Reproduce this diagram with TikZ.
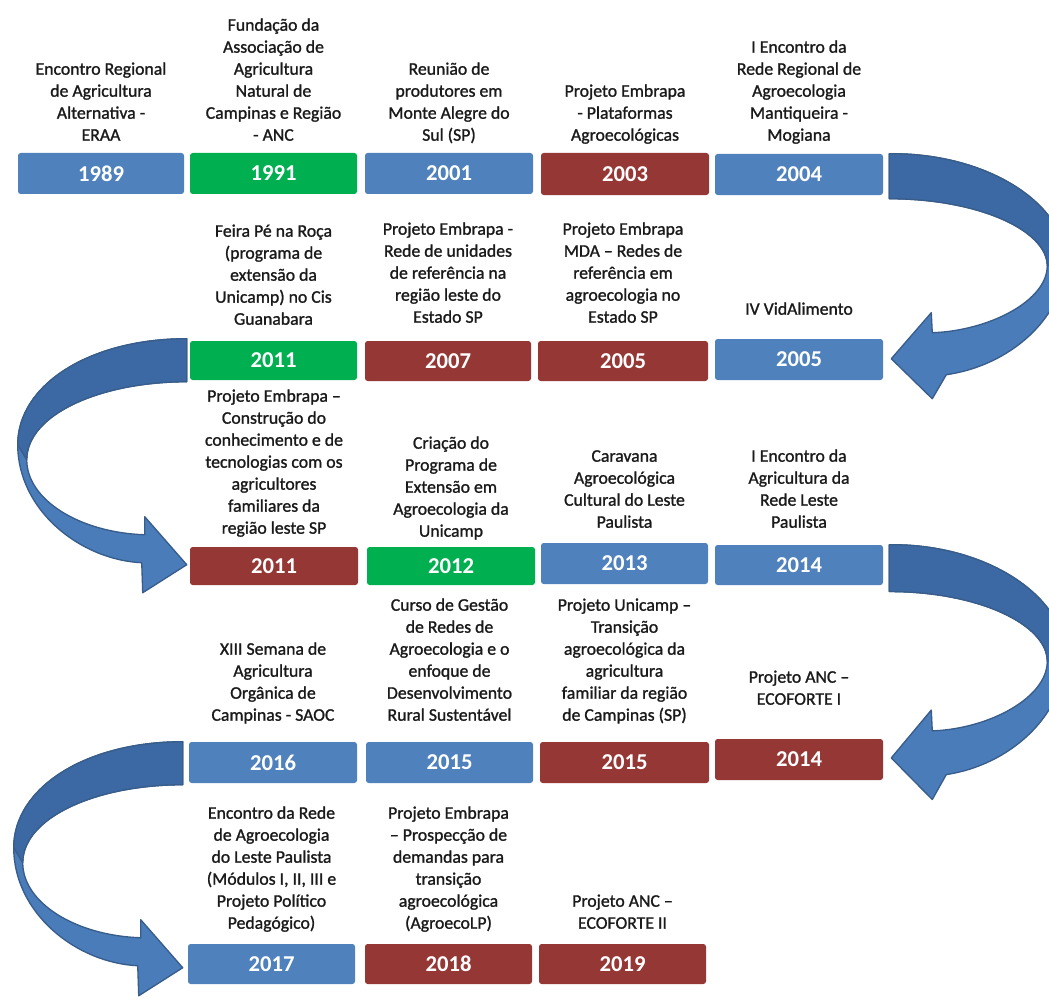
\documentclass[tikz,border=0pt]{standalone}
\usepackage{fontspec}
\setmainfont{Carlito}
\newfontfamily\descfont{Carlito}[FakeBold=1.2]
\usetikzlibrary{calc}
\definecolor{cblue}{HTML}{4F81BD}
\definecolor{cgreen}{HTML}{00B050}
\definecolor{cred}{HTML}{953735}
\definecolor{arrfront}{HTML}{4A7CBA}
\definecolor{arrback}{HTML}{3C69A3}
\definecolor{arrline}{HTML}{385D8A}
\definecolor{txt}{HTML}{1A1A1A}
\tikzset{
  yr/.style={rounded corners=2pt, inner sep=0pt, text=white,
    font=\fontsize{17}{18}\selectfont\bfseries},
  desc/.style={align=center, anchor=south, inner sep=0pt, text=txt,
    font=\descfont\fontsize{13.3}{16.5}\selectfont},
  arrfill/.style={draw=arrline, line width=1pt, line join=round},
  rarrow/.pic={
    \path[arrfill, fill=arrfront] (0,0) .. controls (100,-1) and (178,52) .. (176,109)
      .. controls (174,165) and (120,212) .. (57,221) -- (43,245) -- (2,205) -- (42,159) -- (43,179)
      .. controls (100,177) and (158,147) .. (158,112)
      .. controls (158,77) and (90,45) .. (0,45) -- cycle;
    \path[arrfill, fill=arrback] (0,0) .. controls (100,-1) and (178,52) .. (176,109)
      -- (158,112) .. controls (158,77) and (90,45) .. (0,45) -- cycle;
  },
  larrow/.pic={
    \path[arrfill, fill=arrfront] (0,0) .. controls (-97,0) and (-169,46) .. (-169,106)
      .. controls (-169,171) and (-107,221) .. (-45,224) -- (-44,254) -- (0,226) -- (-42,178) -- (-42,196)
      .. controls (-107,194) and (-160,161) .. (-160,121)
      .. controls (-160,76) and (-87,43) .. (0,43) -- cycle;
    \path[arrfill, fill=arrback] (0,0) .. controls (-97,0) and (-169,46) .. (-169,106)
      -- (-160,121) .. controls (-160,76) and (-87,43) .. (0,43) -- cycle;
  },
}
\newcommand{\yrbox}[7]{%
  \node[yr, fill=#6, minimum width={(#4-#2)*0.75pt}, minimum height={(#5-#3)*0.75pt}]
    (#1) at ({(#2+#4)/2},{(#3+#5)/2}) {#7};}
\begin{document}
\begin{tikzpicture}[x=0.75pt,y=-0.75pt]
\useasboundingbox (0,0) rectangle (1049,1002);
\clip (0,0) rectangle (1049,1002);
\fill[white] (0,0) rectangle (1049,1002);

% year boxes
\yrbox{b1989}{18}{153}{184}{194}{cblue}{1989}
\yrbox{b1991}{190}{153}{357}{194}{cgreen}{1991}
\yrbox{b2001}{365}{153}{533}{194}{cblue}{2001}
\yrbox{b2003}{541}{153}{709}{195}{cred}{2003}
\yrbox{b2004}{715}{154}{883}{195}{cblue}{2004}

\yrbox{b2011a}{190}{341}{357}{380}{cgreen}{2011}
\yrbox{b2007}{365}{341}{531}{381}{cred}{2007}
\yrbox{b2005a}{538}{341}{708}{381}{cred}{2005}
\yrbox{b2005b}{715}{339}{883}{380}{cblue}{2005}

\yrbox{b2011b}{190}{547}{358}{585}{cred}{2011}
\yrbox{b2012}{367}{547}{535}{585}{cgreen}{2012}
\yrbox{b2013}{541}{543}{708}{584}{cblue}{2013}
\yrbox{b2014a}{715}{545}{883}{585}{cblue}{2014}

\yrbox{b2016}{189}{742}{357}{783}{cblue}{2016}
\yrbox{b2015a}{366}{742}{533}{783}{cblue}{2015}
\yrbox{b2015b}{540}{742}{709}{783}{cred}{2015}
\yrbox{b2014b}{715}{739}{883}{780}{cred}{2014}

\yrbox{b2017}{188}{944}{355}{984}{cblue}{2017}
\yrbox{b2018}{365}{944}{532}{984}{cred}{2018}
\yrbox{b2019}{539}{944}{706}{984}{cred}{2019}

% descriptions
\node[desc] (t1989) at (101,147.6) {Encontro Regional\\de Agricultura\\Alternativa -\\ERAA\strut};
\node[desc] (t1991) at (273.5,147.6) {Fundação da\\Associação de\\Agricultura\\Natural de\\Campinas e Região\\- ANC\strut};
\node[desc] (t2001) at (449,147.6) {Reunião de\\produtores em\\Monte Alegre do\\Sul (SP)\strut};
\node[desc] (t2003) at (625,147.6) {Projeto Embrapa\\- Plataformas\\Agroecológicas\strut};
\node[desc] (t2004) at (799,147.6) {I Encontro da\\Rede Regional de\\Agroecologia\\Mantiqueira -\\Mogiana\strut};

\node[desc] (t2011a) at (273.5,331.6) {Feira Pé na Roça\\(programa de\\extensão da\\Unicamp) no Cis\\Guanabara\strut};
\node[desc] (t2007) at (448,329.6) {Projeto Embrapa -\\Rede de unidades\\de referência na\\região leste do\\Estado SP\strut};
\node[desc] (t2005a) at (623,329.6) {Projeto Embrapa\\MDA – Redes de\\referência em\\agroecologia no\\Estado SP\strut};
\node[desc] (t2005b) at (799,321.6) {IV VidAlimento\strut};

\node[desc] (t2011b) at (274,540.6) {Projeto Embrapa –\\Construção do\\conhecimento e de\\tecnologias com os\\agricultores\\familiares da\\região leste SP\strut};
\node[desc] (t2012) at (451,543.6) {Criação do\\Programa de\\Extensão em\\Agroecologia da\\Unicamp\strut};
\node[desc] (t2013) at (624.5,534.6) {Caravana\\Agroecológica\\Cultural do Leste\\Paulista\strut};
\node[desc] (t2014a) at (799,534.6) {I Encontro da\\Agricultura da\\Rede Leste\\Paulista\strut};

\node[desc] (t2016) at (273,727.6) {XIII Semana de\\Agricultura\\Orgânica de\\Campinas - SAOC\strut};
\node[desc] (t2015a) at (449.5,727.6) {Curso de Gestão\\de Redes de\\Agroecologia e o\\enfoque de\\Desenvolvimento\\Rural Sustentável\strut};
\node[desc] (t2015b) at (624.5,727.6) {Projeto Unicamp –\\Transição\\agroecológica da\\agricultura\\familiar da região\\de Campinas (SP)\strut};
\node[desc] (t2014b) at (799,711.6) {Projeto ANC –\\ECOFORTE I\strut};

\node[desc] (t2017) at (271.5,935.6) {Encontro da Rede\\de Agroecologia\\do Leste Paulista\\(Módulos I, II, III e\\Projeto Político\\Pedagógico)\strut};
\node[desc] (t2018) at (448.5,935.6) {Projeto Embrapa\\– Prospecção de\\demandas para\\transição\\agroecológica\\(AgroecoLP)\strut};
\node[desc] (t2019) at (622.5,935.6) {Projeto ANC –\\ECOFORTE II\strut};

% curved block arrows between rows
\pic at ($(b2004.north east)+(6,0)$) {rarrow};
\pic at ($(b2011a.north west)+(-3,-2)$) {larrow};
\pic[yscale=1.04] at ($(b2014a.north east)+(6,0)$) {rarrow};
\pic at ($(b2016.north west)+(-6,0)$) {larrow};
\end{tikzpicture}
\end{document}
